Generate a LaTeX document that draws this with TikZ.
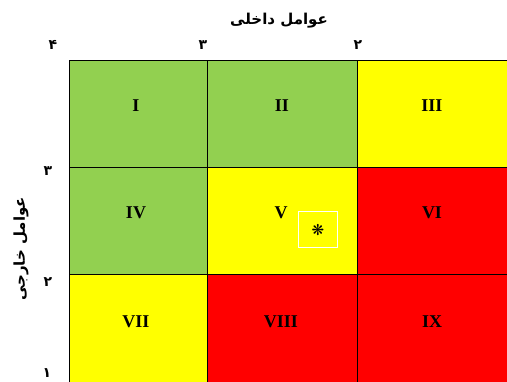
\documentclass[tikz,border=0pt]{standalone}
\usepackage{fontspec}
\setmainfont{Liberation Serif}
\newfontfamily\arabicfont[Script=Arabic]{DejaVu Sans}
\newfontfamily\symfont{DejaVu Sans}
\TeXXeTstate=1
\definecolor{cgreen}{RGB}{146,208,80}
\definecolor{cyellow}{RGB}{255,255,0}
\definecolor{cred}{RGB}{255,0,0}
\begin{document}
\begin{tikzpicture}[x=1pt,y=-1pt,
  cell/.style={draw=black, line width=0.9pt, inner sep=0pt, anchor=north west},
  roman/.style={font=\fontsize{18}{20}\selectfont\bfseries, inner sep=0pt},
  tick/.style={font=\arabicfont\bfseries\fontsize{14}{16}\selectfont, inner sep=0pt},
  axis/.style={font=\arabicfont\bfseries\fontsize{15}{18}\selectfont, inner sep=0pt}]
\useasboundingbox (0,0) rectangle (507,382);
\fill[white] (0,0) rectangle (507,382);
\begin{scope}
\clip (0,0) rectangle (507,382);
\node[cell, fill=cgreen, minimum width=138pt, minimum height=107pt] (c1) at (69,60) {};
\node[cell, fill=cgreen, minimum width=150pt, minimum height=107pt] (c2) at (207,60) {};
\node[cell, fill=cyellow, minimum width=155pt, minimum height=107pt] (c3) at (357,60) {};
\node[cell, fill=cgreen, minimum width=138pt, minimum height=107pt] (c4) at (69,167) {};
\node[cell, fill=cyellow, minimum width=150pt, minimum height=107pt] (c5) at (207,167) {};
\node[cell, fill=cred, minimum width=155pt, minimum height=107pt] (c6) at (357,167) {};
\node[cell, fill=cyellow, minimum width=138pt, minimum height=115pt] (c7) at (69,274) {};
\node[cell, fill=cred, minimum width=150pt, minimum height=115pt] (c8) at (207,274) {};
\node[cell, fill=cred, minimum width=155pt, minimum height=115pt] (c9) at (357,274) {};
\end{scope}
\node[roman] (l1) at (136,106) {I};
\node[roman] (l2) at (282,106) {II};
\node[roman] (l3) at (432,106) {III};
\node[roman] (l4) at (136,213) {IV};
\node[roman] (l5) at (281,213) {V};
\node[roman] (l6) at (432,213) {VI};
\node[roman] (l7) at (136,322) {VII};
\node[roman] (l8) at (281,322) {VIII};
\node[roman] (l9) at (432,322) {IX};
\node[draw=white, line width=1pt, minimum width=39pt, minimum height=36pt, inner sep=0pt] (star) at (318,230) {\symfont\fontsize{15}{17}\selectfont ❋};
\node[axis] (xt) at (279,21) {\beginR عوامل داخلی\endR};
\node[axis, rotate=90] (yt) at (21,249) {\beginR عوامل خارجی\endR};
\node[tick] (x4) at (53,45) {۴};
\node[tick] (x3) at (203,45) {۳};
\node[tick] (x2) at (358,45) {۲};
\node[tick] (y3) at (48,171) {۳};
\node[tick] (y2) at (48,282) {۲};
\node[tick] (y1) at (47,373) {۱};
\end{tikzpicture}
\end{document}
